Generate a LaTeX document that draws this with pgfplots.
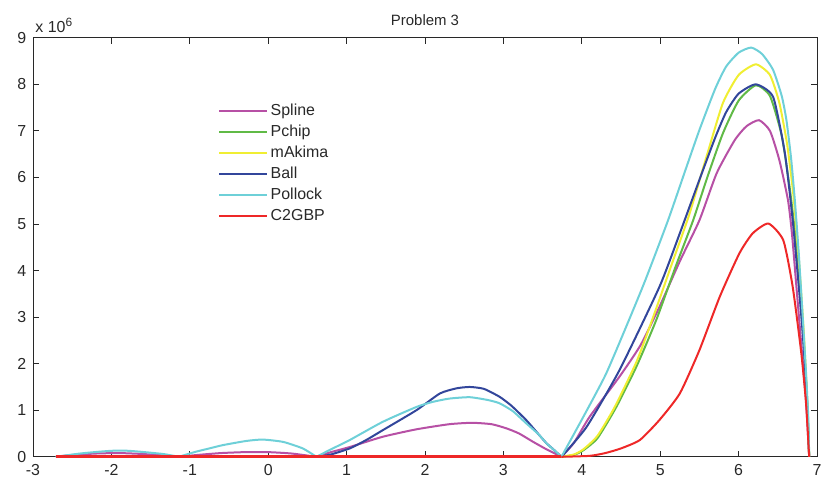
\documentclass[border=0pt]{standalone}
\usepackage{fontspec}
\setmainfont{Liberation Sans}
\usepackage{pgfplots}
\pgfplotsset{compat=1.18}

\definecolor{cspline}{RGB}{183,80,165}
\definecolor{cpchip}{RGB}{96,186,70}
\definecolor{cakima}{RGB}{240,238,50}
\definecolor{cball}{RGB}{50,70,155}
\definecolor{cpollock}{RGB}{110,208,216}
\definecolor{cc2gbp}{RGB}{238,40,40}
\definecolor{axgray}{RGB}{40,40,40}

\begin{document}
\fontsize{8}{9.6}\selectfont
\begin{tikzpicture}
\begin{axis}[
  scale only axis,
  width=392bp, height=209.5bp,
  xmin=-3, xmax=7, ymin=0, ymax=9,
  clip=false,
  xtick={-3,-2,...,7}, ytick={0,1,...,9},
  tick align=inside,
  major tick length=2.9bp,
  axis line style={axgray, line width=0.5bp},
  every tick/.style={axgray, line width=0.5bp},
  tick label style={font=\fontsize{8}{9.6}\selectfont, text=axgray},
  /pgf/number format/assume math mode=true,
  xticklabel style={yshift=-1bp},
  yticklabel style={xshift=-0.5bp},
  title={Problem 3},
  title style={font=\fontsize{7.5}{9}\selectfont, yshift=-3bp, text=axgray},
  legend cell align=left,
  legend style={draw=none, fill=none, at={(rel axis cs:0.228,0.858)}, anchor=north west,
    font=\fontsize{8}{9.6}\selectfont, text=axgray, row sep=0.9bp,
    nodes={inner sep=1.3bp}},
  legend image code/.code={\draw[#1] (0bp,0bp) -- (24bp,0bp);},
  every axis plot/.append style={line width=1bp, smooth, tension=0.35},
]
% Spline
\addplot[cspline] coordinates {
(-2.71,0) (-2.5,0.04) (-2.2,0.07) (-1.9,0.08) (-1.6,0.06) (-1.35,0.03) (-1.14,0)
};
\addlegendentry{Spline}
\addplot[cspline, forget plot] coordinates {
(-1.14,0) (-0.9,0.04) (-0.6,0.08) (-0.3,0.1) (0,0.1) (0.3,0.07) (0.615,0)
};
\addplot[cspline, forget plot] coordinates {
(0.615,0) (0.8,0.1) (1.04,0.21) (1.46,0.43) (1.89,0.59) (2.31,0.70) (2.6,0.73) (2.85,0.70)
(3.04,0.61) (3.2,0.5) (3.38,0.32) (3.55,0.16) (3.74,0)
};
\addplot[cspline, forget plot] coordinates {
(3.74,0) (3.9,0.3) (4.1,0.86) (4.48,1.72) (4.75,2.4) (4.99,3.22) (5.25,4.2) (5.5,5.08)
(5.72,6.09) (5.95,6.8) (6.1,7.1) (6.26,7.23) (6.4,7.0) (6.52,6.37) (6.63,5.51)
(6.68,4.8) (6.74,3.6) (6.80,2.4) (6.86,1.2) (6.9,0)
};
% Pchip
\addplot[cpchip] coordinates {
(3.74,0) (3.9,0.04) (4.02,0.14) (4.2,0.4) (4.44,1.07) (4.7,1.95)
(4.95,2.94) (5.2,4.1) (5.42,5.08) (5.6,6.0) (5.8,6.95) (6.0,7.65) (6.22,7.98)
(6.4,7.75) (6.55,6.9) (6.65,5.8) (6.72,4.8) (6.78,3.6) (6.84,2.2) (6.88,1.0) (6.9,0)
};
\addlegendentry{Pchip}
\addplot[cpchip, forget plot, sharp plot] coordinates {(-2.71,0) (3.74,0)};
% mAkima
\addplot[cakima] coordinates {
(3.74,0) (3.9,0.05) (4.02,0.16) (4.2,0.45) (4.42,1.07) (4.7,2.05)
(4.91,3.0) (5.15,4.15) (5.37,5.2) (5.6,6.5) (5.8,7.6) (6.0,8.2) (6.22,8.43)
(6.4,8.2) (6.52,7.6) (6.62,6.7) (6.7,5.6) (6.77,4.2) (6.83,2.7) (6.87,1.4) (6.9,0)
};
\addlegendentry{mAkima}
\addplot[cakima, forget plot, sharp plot] coordinates {(-2.71,0) (3.74,0)};
% Ball
\addplot[cball] coordinates {
(0.615,0) (0.8,0.05) (1.04,0.18) (1.25,0.36) (1.46,0.57) (1.89,1.00)
(2.19,1.36) (2.4,1.47) (2.57,1.50) (2.75,1.46) (2.95,1.29) (3.1,1.1) (3.29,0.79)
(3.45,0.48) (3.55,0.29) (3.65,0.14) (3.74,0)
};
\addlegendentry{Ball}
\addplot[cball, forget plot, sharp plot] coordinates {(-2.71,0) (0.615,0)};
\addplot[cball, forget plot] coordinates {
(3.74,0) (4.06,0.64) (4.48,1.86) (4.99,3.65) (5.25,4.8) (5.5,5.95) (5.7,6.85) (5.84,7.4)
(6.0,7.8) (6.22,8.0) (6.44,7.73) (6.59,6.52) (6.69,5.08) (6.76,3.8) (6.82,2.6)
(6.87,1.3) (6.9,0)
};
% Pollock
\addplot[cpollock] coordinates {
(-2.71,0) (-2.4,0.07) (-2.15,0.11) (-1.98,0.13) (-1.8,0.13) (-1.64,0.11) (-1.34,0.06) (-1.14,0)
};
\addlegendentry{Pollock}
\addplot[cpollock, forget plot] coordinates {
(-1.14,0) (-0.92,0.11) (-0.75,0.18) (-0.58,0.25) (-0.28,0.34) (-0.07,0.37) (0.19,0.32) (0.44,0.18) (0.615,0)
};
\addplot[cpollock, forget plot] coordinates {
(0.615,0) (0.8,0.16) (1.04,0.36) (1.46,0.75) (1.89,1.07) (2.1,1.18) (2.31,1.25) (2.57,1.28)
(2.8,1.22) (2.95,1.15) (3.12,0.98) (3.29,0.72) (3.45,0.48) (3.55,0.29) (3.65,0.14) (3.74,0)
};
\addplot[cpollock, forget plot] coordinates {
(3.74,0) (4.02,0.86) (4.3,1.75) (4.53,2.65) (4.8,3.75) (5.10,5.08) (5.33,6.2) (5.50,7.02)
(5.7,7.9) (5.84,8.38) (6.0,8.68) (6.16,8.79) (6.3,8.65) (6.44,8.31) (6.55,7.75)
(6.61,7.23) (6.67,6.4) (6.72,5.45) (6.77,4.3) (6.82,2.94) (6.86,1.8) (6.89,0.79) (6.9,0)
};
% C2GBP
\addplot[cc2gbp] coordinates {
(3.74,0) (4.1,0.02) (4.3,0.08) (4.5,0.18) (4.74,0.36) (4.99,0.79)
(5.25,1.36) (5.5,2.29) (5.76,3.44) (6.01,4.37) (6.18,4.80) (6.38,5.01) (6.57,4.65)
(6.69,3.65) (6.80,2.22) (6.86,1.15) (6.9,0)
};
\addlegendentry{C2GBP}
\addplot[cc2gbp, forget plot, sharp plot, line width=1.3bp] coordinates {(-2.71,0) (3.74,0)};
\end{axis}
\node[anchor=south west, inner sep=0pt, text=axgray, font=\fontsize{8}{9.6}\selectfont]
  at ([xshift=1bp,yshift=2.5bp]current axis.north west) {x 10\textsuperscript{6}};
\pgfresetboundingbox
\useasboundingbox ([xshift=-16.5bp,yshift=-10.7bp]current axis.south west)
  rectangle ([xshift=2bp,yshift=18.9bp]current axis.north east);
\end{tikzpicture}
\end{document}
